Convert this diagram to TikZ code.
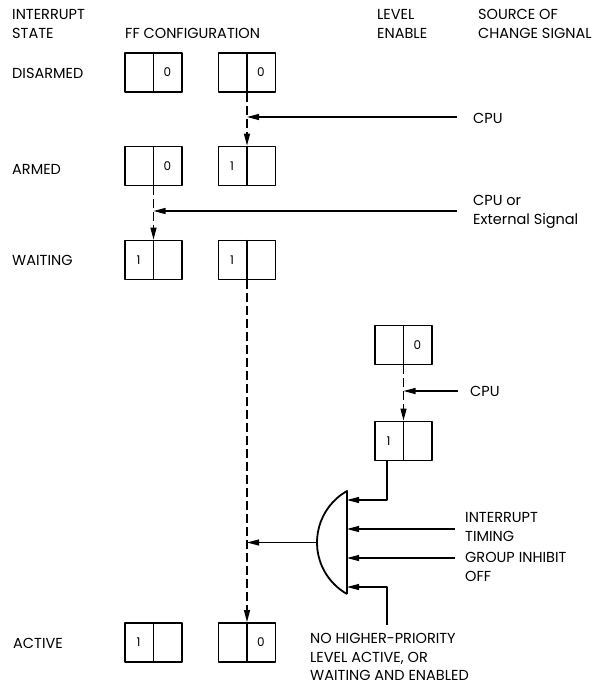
\documentclass[tikz,border=0pt]{standalone}
\usepackage{fontspec}
\setmainfont{Poppins}
\usepackage{tikz}
\usetikzlibrary{arrows.meta}

\tikzset{
  ffbox/.style={draw, line width=1.8pt, minimum width=57pt, minimum height=39pt, inner sep=0pt},
  ffline/.style={line width=1.8pt},
  digit/.style={font=\fontsize{12}{14}\selectfont, inner sep=0pt},
  lbl/.style={font=\fontsize{14.5}{18.5}\selectfont, inner sep=0pt, align=left, anchor=west},
  sig/.style={->, line width=1.2pt},
  chg/.style={->, line width=1.2pt, dash pattern=on 9pt off 4pt},
}

\begin{document}
\begin{tikzpicture}[line cap=butt,line join=round,>={Triangle[length=12pt,width=6pt]},x=1pt,y=-1pt]
\useasboundingbox (0,0) rectangle (607,685);
% headings
\node[lbl] (hstate) at (12,24) {INTERRUPT\\STATE};
\node[lbl] (hff) at (125,33) {FF CONFIGURATION};
\node[lbl] (hlev) at (377,24) {LEVEL\\ENABLE};
\node[lbl] (hsrc) at (478,24) {SOURCE OF\\CHANGE SIGNAL};
% states
\node[lbl] (sdis) at (12,73) {DISARMED};
\node[lbl] (sarm) at (12,169) {ARMED};
\node[lbl] (swait) at (12,260) {WAITING};
\node[lbl] (sact) at (13,643) {ACTIVE};
% flip-flop pairs
\foreach \nm/\cx/\cy/\lt/\rt in {D1/153.5/72.5/{}/0, D2/247/72.5/{}/0,
    A1/153.5/166/{}/0, A2/247/166/1/{}, W1/153.5/260/1/{}, W2/247/260/1/{},
    L0/403.5/345/{}/0, L1/403.5/441/1/{}, X1/153.5/642.5/1/{}, X2/247/642.5/{}/0}{
  \node[ffbox] (\nm) at (\cx,\cy) {};
  \draw[ffline] (\nm.north) -- (\nm.south);
  \node[digit] (\nm-l) at ([xshift=-15]\nm.center) {\lt};
  \node[digit] (\nm-r) at ([xshift=14]\nm.center) {\rt};
}
% sources of change
\node[lbl] (cpua) at (473,118) {CPU};
\node[lbl] (cpub) at (473,212) {CPU or\\External Signal};
\node[lbl] (cpuc) at (470,391) {CPU};
\node[lbl] (timing) at (465,527) {INTERRUPT\\TIMING};
\node[lbl] (inhibit) at (465,567) {GROUP INHIBIT\\OFF};
\node[lbl] (nohigh) at (310,657) {NO HIGHER-PRIORITY\\LEVEL ACTIVE, OR\\WAITING AND ENABLED};
\coordinate (sa) at (457,117);
\coordinate (sb) at (457,211);
\coordinate (sc) at (458,391);
\coordinate (sd) at (455,529);
\coordinate (se) at (455,558);
\coordinate (sf) at (387,625);
% gate
\coordinate (gtop) at (347,491);
\coordinate (gbot) at (347,594);
\coordinate (gout) at (317,542.5);
\coordinate (in1) at (347,500);
\coordinate (in2) at (347,529);
\coordinate (in3) at (347,558);
\coordinate (in4) at (347,587);
\draw[line width=1.8pt] (gbot) -- (gtop) arc[start angle=119.55, end angle=240.45, radius=59.2pt];
% state changes
\draw[chg] (D2.south) -- (A2.north);
\draw[chg] (A1.south) -- (W1.north);
\draw[chg] (W2.south) -- (X2.north);
\draw[chg] (L0.south) -- (L1.north);
\draw[sig] (sa) -- (D2 |- sa);
\draw[sig] (sb) -- (A1 |- sb);
\draw[sig] (sc) -- (L0 |- sc);
\draw[sig] ([xshift=-16.5]L1.south) |- (in1);
\draw[sig] (sd) -- (in2);
\draw[sig] (se) -- (in3);
\draw[sig] (sf) |- (in4);
\draw[sig] (gout) -- (W2 |- gout);
\end{tikzpicture}
\end{document}
